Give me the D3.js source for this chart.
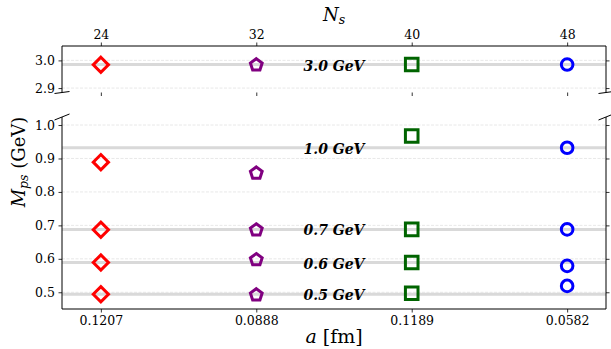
<!DOCTYPE html>
<html>
<head>
<meta charset="utf-8">
<script src="https://cdn.jsdelivr.net/npm/d3@7"></script>
<style>
  body { margin: 0; background: #fff; }
  text { font-family: "DejaVu Serif", serif; }
</style>
</head>
<body>
<div id="chart"></div>
<script>
// lattice setups (x categories)
var nsLabels = ["24", "32", "40", "48"];
var aLabels = ["0.1207", "0.0888", "0.1189", "0.0582"];

// target pion masses and reference lines
var targetLabels = ["3.0 GeV", "1.0 GeV", "0.7 GeV", "0.6 GeV", "0.5 GeV"];
var bandValues = [2.985, 0.932, 0.688, 0.589, 0.494];

// measured M_ps per setup, one entry per target
var diamondVals = [2.984, 0.889, 0.687, 0.589, 0.494];
var pentagonVals = [2.986, 0.858, 0.688, 0.599, 0.494];
var squareVals = [2.985, 0.967, 0.688, 0.589, 0.497];
var circleVals = [2.985, 0.932, 0.688, 0.579, 0.519];

var topTicks = [2.9, 3.0];
var botTicks = [0.5, 0.6, 0.7, 0.8, 0.9, 1.0];

var W = 611, H = 349;
var svg = d3.select("#chart").append("svg")
    .attr("width", W).attr("height", H)
    .style("background", "#fff");

var left = 62, right = 606;
var x = d3.scaleLinear().domain([-0.25, 3.25]).range([left, right]);
var yTop = d3.scaleLinear().domain([2.884, 3.052]).range([92.5, 46]);
var yBot = d3.scaleLinear().domain([0.45, 1.024]).range([309, 117]);

// pick which panel a value belongs to
function yOf(v) { return v > 2 ? yTop(v) : yBot(v); }

// grid lines
function grid(scale, ticks) {
  svg.append("g").selectAll("line").data(ticks).enter().append("line")
    .attr("x1", left).attr("x2", right)
    .attr("y1", d => scale(d)).attr("y2", d => scale(d))
    .attr("stroke", "#e2e2e2").attr("stroke-width", 0.8)
    .attr("stroke-dasharray", "3,1.5");
}
grid(yTop, topTicks);
grid(yBot, botTicks);

// reference bands
svg.append("g").selectAll("line").data(bandValues).enter().append("line")
  .attr("x1", left).attr("x2", right)
  .attr("y1", d => yOf(d)).attr("y2", d => yOf(d))
  .attr("stroke", "#d9d9d9").attr("stroke-width", 3);

// target labels
svg.append("g").selectAll("text").data(targetLabels).enter().append("text")
  .attr("x", x(1.5))
  .attr("y", (d, i) => yOf(bandValues[i]) + 1)
  .attr("text-anchor", "middle")
  .attr("dominant-baseline", "central")
  .style("font-size", "14px").style("font-weight", "bold").style("font-style", "italic")
  .text(d => d);

// axes
function styleAxis(g) {
  g.select(".domain").remove();
  g.selectAll(".tick line").attr("stroke", "#000").attr("stroke-width", 0.8);
  g.selectAll(".tick text").style("font-family", "DejaVu Serif").style("font-size", "12.5px").attr("fill", "#000");
}
var xi = [0, 1, 2, 3];
svg.append("g").attr("transform", "translate(0,46)")
  .call(d3.axisTop(x).tickValues(xi).tickFormat(i => nsLabels[i]).tickSize(3.5).tickPadding(3.5))
  .call(styleAxis);
svg.append("g").attr("transform", "translate(0,92.5)")
  .call(d3.axisBottom(x).tickValues(xi).tickFormat("").tickSize(3.5))
  .call(styleAxis);
svg.append("g").attr("transform", "translate(0,309)")
  .call(d3.axisBottom(x).tickValues(xi).tickFormat(i => aLabels[i]).tickSize(3.5).tickPadding(3.5))
  .call(styleAxis);
[[yTop, topTicks], [yBot, botTicks]].forEach(function(p) {
  svg.append("g").attr("transform", "translate(" + left + ",0)")
    .call(d3.axisLeft(p[0]).tickValues(p[1]).tickFormat(d3.format(".1f")).tickSize(3.5).tickPadding(3.5))
    .call(styleAxis);
  svg.append("g").attr("transform", "translate(" + right + ",0)")
    .call(d3.axisRight(p[0]).tickValues(p[1]).tickFormat("").tickSize(3.5))
    .call(styleAxis);
});

// spines
var sp = svg.append("g").attr("stroke", "#000").attr("stroke-width", 1).attr("fill", "none");
sp.append("path").attr("d", "M" + left + ",92.5V46H" + right + "V92.5");
sp.append("path").attr("d", "M" + left + ",117V309H" + right + "V117");
// break marks
[left, right].forEach(function(px) {
  sp.append("line").attr("x1", px - 7.5).attr("y1", 93.5).attr("x2", px + 7.5).attr("y2", 91.5);
  sp.append("line").attr("x1", px - 7.5).attr("y1", 120).attr("x2", px + 7.5).attr("y2", 114);
});

// markers
function diamondPath(s) { return "M0," + (-s) + "L" + s + ",0L0," + s + "L" + (-s) + ",0Z"; }
function pentagonPath(r) {
  var pts = d3.range(5).map(function(k) {
    var a = -Math.PI / 2 + k * 2 * Math.PI / 5;
    return [r * Math.cos(a), r * Math.sin(a) + r * 0.1];
  });
  return "M" + pts.join("L") + "Z";
}
function squarePath(h) { return "M" + (-h) + "," + (-h) + "H" + h + "V" + h + "H" + (-h) + "Z"; }

var series = [
  {vals: diamondVals, col: "#ff0000", path: diamondPath(7.6)},
  {vals: pentagonVals, col: "#800080", path: pentagonPath(6.2)},
  {vals: squareVals, col: "#006400", path: squarePath(6.3)},
  {vals: circleVals, col: "#0000ff", path: null}
];
series.forEach(function(s, i) {
  var g = svg.append("g");
  if (s.path) {
    g.selectAll("path").data(s.vals).enter().append("path")
      .attr("d", s.path)
      .attr("transform", d => "translate(" + x(i) + "," + yOf(d) + ")")
      .attr("fill", "none").attr("stroke", s.col).attr("stroke-width", 3)
      .attr("stroke-linejoin", "miter");
  } else {
    g.selectAll("circle").data(s.vals).enter().append("circle")
      .attr("cx", x(i)).attr("cy", d => yOf(d)).attr("r", 5.8)
      .attr("fill", "none").attr("stroke", s.col).attr("stroke-width", 3);
  }
});

// axis labels
var nl = svg.append("text").attr("x", 334).attr("y", 21).attr("text-anchor", "middle")
  .style("font-size", "18px");
nl.append("tspan").style("font-style", "italic").text("N");
nl.append("tspan").style("font-style", "italic").style("font-size", "12.5px").attr("dy", 3).text("s");

var yl = svg.append("text").attr("transform", "translate(25,162)rotate(-90)")
  .attr("text-anchor", "middle").style("font-size", "18px");
yl.append("tspan").style("font-style", "italic").text("M");
yl.append("tspan").style("font-style", "italic").style("font-size", "12.5px").attr("dy", 3).text("ps");
yl.append("tspan").attr("dy", -3).text(" (GeV)");

var xl = svg.append("text").attr("x", 334).attr("y", 343).attr("text-anchor", "middle")
  .style("font-size", "19px");
xl.append("tspan").style("font-style", "italic").text("a");
xl.append("tspan").text(" [fm]");
</script>
</body>
</html>
